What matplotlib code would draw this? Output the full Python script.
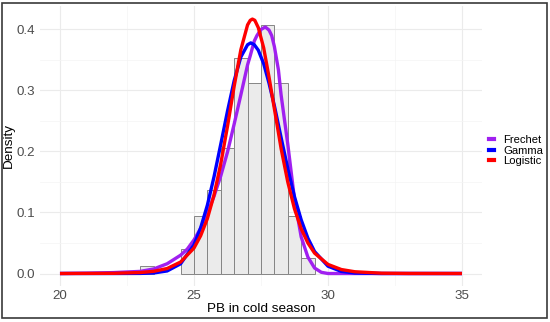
"""Density fits of PB in cold season: histogram plus three fitted curves."""
import matplotlib
matplotlib.use("Agg")  # non-interactive backend
import matplotlib.pyplot as plt
from matplotlib.lines import Line2D
from matplotlib.patches import Rectangle
from matplotlib.ticker import MultipleLocator

plt.rcParams["font.family"] = ["Liberation Sans", "DejaVu Sans"]

# histogram (density scale), bin width 0.5
bin_left = [23.0, 24.5, 25.0, 25.5, 26.0, 26.5, 27.0, 27.5, 28.0, 28.5, 29.0]
bin_density = [0.0115, 0.040, 0.095, 0.137, 0.205, 0.354, 0.313, 0.408, 0.313, 0.095, 0.026]
bin_width = 0.5

# fitted curves
frechet_x = [20, 21, 22, 23, 23.5, 24, 24.5, 24.75, 25, 25.25, 25.5, 25.75, 26, 26.25,
             26.5, 26.75, 27, 27.1, 27.25, 27.35, 27.5, 27.66, 27.8, 27.9, 28, 28.15,
             28.25, 28.5, 28.75, 29, 29.25, 29.5, 29.75, 30, 35]
frechet_y = [0.0, 0.0005, 0.0015, 0.0035, 0.0075, 0.016, 0.030, 0.040, 0.055, 0.074,
             0.098, 0.127, 0.160, 0.199, 0.245, 0.293, 0.342, 0.357, 0.381, 0.390, 0.400,
             0.404, 0.399, 0.390, 0.372, 0.334, 0.293, 0.212, 0.122, 0.060, 0.027, 0.009,
             0.002, 0.0, 0.0]

gamma_x = [20, 22, 23, 23.5, 24, 24.5, 25, 25.25, 25.5, 25.75, 26, 26.25, 26.5, 26.75,
           27, 27.12, 27.25, 27.4, 27.6, 27.8, 28, 28.25, 28.5, 28.75, 29, 29.25, 29.5,
           30, 30.5, 31, 32, 35]
gamma_y = [0.0, 0.0, 0.00015, 0.0009, 0.0042, 0.0159, 0.047, 0.075, 0.112, 0.159, 0.212,
           0.266, 0.316, 0.355, 0.375, 0.378, 0.375, 0.366, 0.344, 0.312, 0.275, 0.223,
           0.172, 0.126, 0.088, 0.058, 0.036, 0.012, 0.0034, 0.0008, 0.0, 0.0]

logistic_x = [20, 22, 23, 23.5, 24, 24.5, 25, 25.25, 25.5, 25.75, 26, 26.25, 26.5, 26.75,
              27, 27.1, 27.18, 27.27, 27.4, 27.6, 27.8, 28, 28.25, 28.5, 28.75, 29, 29.25,
              29.5, 30, 30.5, 31, 32, 33, 35]
logistic_y = [0.0, 0.0003, 0.0016, 0.0036, 0.0082, 0.0188, 0.0417, 0.062, 0.090, 0.129,
              0.180, 0.241, 0.307, 0.367, 0.4075, 0.415, 0.417, 0.415, 0.403, 0.370, 0.322,
              0.270, 0.205, 0.150, 0.106, 0.0735, 0.050, 0.0334, 0.0149, 0.0065, 0.0029,
              0.0005, 0.0001, 0.0]

curves = [
    ("Frechet", frechet_x, frechet_y, "#A020F0"),
    ("Gamma", gamma_x, gamma_y, "#0000FF"),
    ("Logistic", logistic_x, logistic_y, "#FF0000"),
]

fig = plt.figure(figsize=(5.5, 3.22), dpi=100)
ax = fig.add_axes([0.0725, 0.111, 0.804, 0.8714])

ax.bar(bin_left, bin_density, width=bin_width, align="edge",
       color="#EBEBEB", edgecolor="#858585", linewidth=0.7, zorder=2)

for name, xs, ys, col in curves:
    ax.plot(xs, ys, color=col, lw=2.4, solid_capstyle="butt", zorder=3)

ax.set_xlim(19.25, 35.75)
ax.set_ylim(-0.0209, 0.439)
ax.xaxis.set_major_locator(MultipleLocator(5))
ax.xaxis.set_minor_locator(MultipleLocator(2.5))
ax.yaxis.set_major_locator(MultipleLocator(0.1))
ax.yaxis.set_minor_locator(MultipleLocator(0.05))
ax.yaxis.set_major_formatter(plt.FuncFormatter(lambda v, _: f"{v:.1f}"))
ax.grid(which="major", color="#EBEBEB", lw=0.8, zorder=0)
ax.grid(which="minor", color="#F4F4F4", lw=0.5, zorder=0)
ax.set_axisbelow(True)
for s in ax.spines.values():
    s.set_visible(False)
ax.tick_params(which="both", length=0, labelsize=9.6, labelcolor="#4D4D4D")
ax.tick_params(axis="y", pad=3.5)
ax.tick_params(axis="x", pad=3.0)
ax.set_xlabel("PB in cold season", fontsize=9.7, labelpad=0.5)
ax.set_ylabel("Density", fontsize=9.7)
ax.yaxis.set_label_coords(-0.056, 0.5)

handles = [Line2D([0], [0], color=c, lw=3) for _, _, _, c in curves]
fig.legend(handles, [n for n, _, _, _ in curves], loc="center left",
           bbox_to_anchor=(489 / 550, 1 - 150.7 / 322), frameon=False,
           fontsize=8.1, handlelength=0.45, handletextpad=0.85, labelspacing=0.05,
           borderpad=0, borderaxespad=0)

# outer frame around the picture
fig.patches.append(Rectangle((2 / 550, 4 / 322), 545 / 550, 315 / 322,
                             transform=fig.transFigure, fill=False,
                             edgecolor="#3A3A3A", lw=1.2))

fig.savefig("out.png", dpi=100)
